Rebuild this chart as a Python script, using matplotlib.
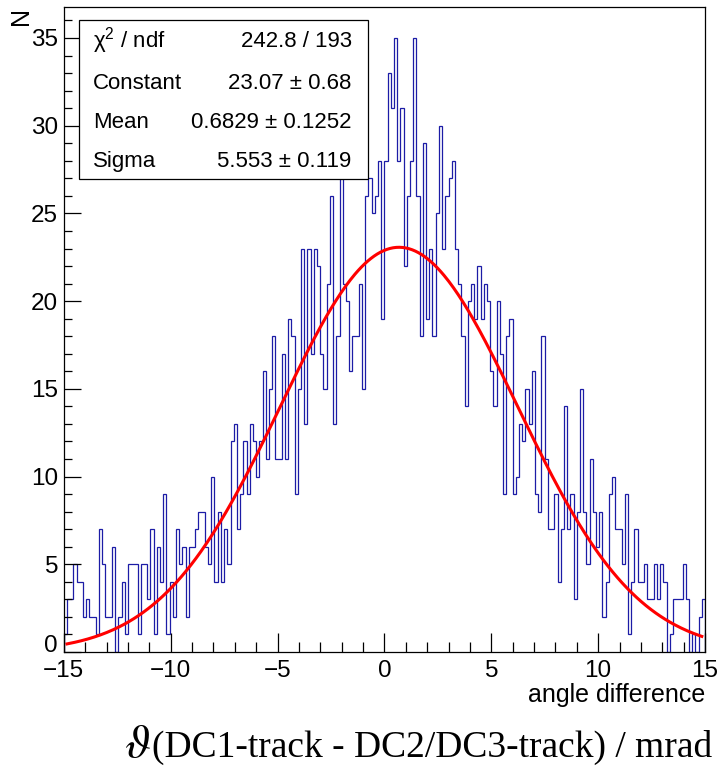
import numpy as np
import matplotlib
matplotlib.use('Agg')
import matplotlib.pyplot as plt
from matplotlib.patches import Rectangle
from matplotlib.ticker import MultipleLocator, FuncFormatter

plt.rcParams['font.family'] = ['Liberation Sans', 'DejaVu Sans']
plt.rcParams['mathtext.fontset'] = 'custom'
plt.rcParams['mathtext.rm'] = 'Liberation Sans'

# bin contents, 200 bins from -15 to 15
counts = [1, 3, 3, 5, 4, 4, 2, 3, 2, 2, 1, 7, 5, 2, 2, 6, 0, 2, 4, 1,
          5, 5, 5, 1, 5, 5, 3, 7, 1, 6, 4, 9, 1, 4, 2, 7, 5, 6, 2, 6,
          6, 7, 8, 8, 6, 5, 10, 4, 8, 4, 7, 5, 12, 13, 7, 9, 12, 9, 13, 12,
          10, 12, 16, 11, 15, 18, 11, 11, 17, 11, 19, 18, 9, 15, 23, 13, 23, 17, 23, 22,
          17, 15, 21, 26, 13, 18, 27, 21, 20, 16, 18, 18, 21, 15, 26, 27, 25, 26, 28, 19,
          28, 33, 31, 35, 28, 31, 22, 26, 28, 35, 26, 18, 29, 19, 23, 18, 25, 30, 23, 26,
          27, 28, 23, 21, 18, 14, 20, 21, 19, 22, 19, 21, 20, 16, 14, 20, 17, 9, 18, 19,
          9, 10, 13, 12, 15, 13, 16, 9, 8, 18, 11, 7, 7, 9, 4, 7, 14, 7, 9, 3,
          8, 15, 8, 5, 11, 8, 6, 8, 2, 4, 9, 10, 7, 7, 5, 9, 1, 4, 7, 4,
          4, 5, 3, 3, 5, 3, 5, 4, 0, 1, 3, 3, 3, 5, 3, 0, 1, 0, 2, 3]
xmin, xmax, nbins = -15.0, 15.0, 200

# gaussian fit results
fit_const = 23.07
fit_mean = 0.6829
fit_sigma = 5.553
stat_names = ['Constant', 'Mean', 'Sigma']
stat_values = ['23.07 \u00b1 0.68', '0.6829 \u00b1 0.1252', '5.553 \u00b1 0.119']
chi2_text = '242.8 / 193'

W, H = 721, 772
def fx(px):
    return px / W
def fy(py):
    return 1 - py / H

fig = plt.figure(figsize=(W / 100, H / 100), dpi=100)
ax = fig.add_axes([fx(63.8), fy(652), (705 - 63.8) / W, (652 - 7.3) / H])

edges = np.linspace(xmin, xmax, nbins + 1)
ax.stairs(counts, edges, color='#1c1ca6', lw=0.9)

xf = np.linspace(-14.85, 14.85, 400)
yf = fit_const * np.exp(-0.5 * ((xf - fit_mean) / fit_sigma) ** 2)
ax.plot(xf, yf, color='#ff0000', lw=2.2)

ax.set_xlim(xmin, xmax)
ax.set_ylim(0, 36.75)
ax.xaxis.set_major_locator(MultipleLocator(5))
ax.xaxis.set_minor_locator(MultipleLocator(1))
ax.yaxis.set_major_locator(MultipleLocator(5))
ax.yaxis.set_minor_locator(MultipleLocator(1))
# the y "0" is written by hand below so it sits clear of the "-15"
ax.yaxis.set_major_formatter(FuncFormatter(lambda v, pos: '' if v == 0 else '%d' % v))
ax.tick_params(axis='x', which='major', direction='in', length=14, width=0.9, labelsize=17.5, pad=6)
ax.tick_params(axis='x', which='minor', direction='in', length=7, width=0.9)
ax.tick_params(axis='y', which='major', direction='in', length=12, width=0.9, labelsize=17.5, pad=4)
ax.tick_params(axis='y', which='minor', direction='in', length=6, width=0.9)
for s in ax.spines.values():
    s.set_linewidth(0.9)
fig.text(fx(58), fy(652), '0', ha='right', va='baseline', fontsize=17.5)

# axis titles, ROOT style
fig.text(fx(705), fy(702), 'angle difference', ha='right', va='baseline', fontsize=18)
fig.text(fx(21), fy(7), 'N', rotation=90, ha='center', va='top', fontsize=18)

# stats box
box = Rectangle((fx(79), fy(179)), (368 - 79) / W, (179 - 20) / H, transform=fig.transFigure,
                facecolor='white', edgecolor='black', lw=0.9, zorder=5)
fig.add_artist(box)
fig.text(fx(92.7), fy(47), r'χ$^{\rm 2}$ / ndf', ha='left', va='baseline', fontsize=16, zorder=6)
fig.text(fx(351.7), fy(47), chi2_text, ha='right', va='baseline', fontsize=16, zorder=6)
rows_y = [89.3, 128.5, 167]
for name, val, y in zip(stat_names, stat_values, rows_y):
    fig.text(fx(92.7), fy(y), name, ha='left', va='baseline', fontsize=16, zorder=6)
    fig.text(fx(351.7), fy(y), val, ha='right', va='baseline', fontsize=16, zorder=6)

# caption under the plot
fig.text(fx(151), fy(757), r'$\vartheta$', ha='right', va='baseline', fontsize=34, math_fontfamily='stix')
fig.text(fx(152), fy(757), '(DC1-track - DC2/DC3-track) / mrad', ha='left', va='baseline',
         fontsize=27, family=['Liberation Serif', 'DejaVu Serif'])

fig.savefig('out.png', dpi=100)
